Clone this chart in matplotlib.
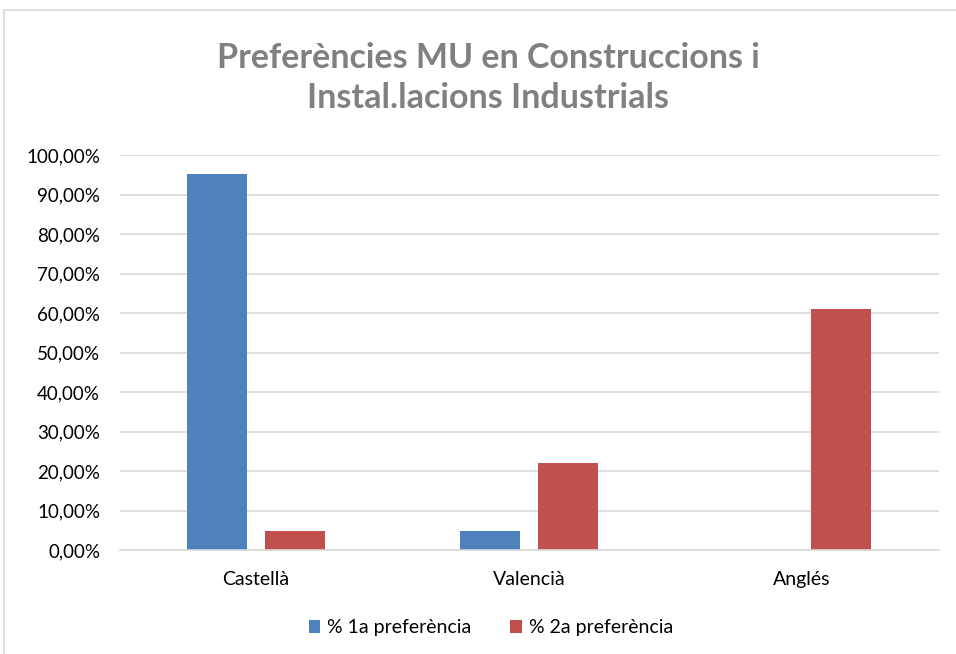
import numpy as np
import matplotlib.pyplot as plt
from matplotlib.patches import Rectangle
from matplotlib.ticker import FuncFormatter

plt.rcParams['font.family'] = ['Lato', 'DejaVu Sans']

categories = ['Castellà', 'Valencià', 'Anglés']
pref1 = [95.12, 4.88, 0.0]
pref2 = [4.88, 21.95, 60.98]
labels = ['% 1a preferència', '% 2a preferència']

blue = '#4f81bd'
red = '#c0504d'

fig = plt.figure(figsize=(9.56, 6.54), dpi=100)
# marc del grafic
fig.patches.append(Rectangle((4/956, -0.1), 1.1, 1 - 10/654 + 0.1,
                             transform=fig.transFigure, fill=False,
                             edgecolor='#d9d9d9', linewidth=1.2))

ax = fig.add_axes([119.5/956, 1 - 550/654, 819/956, 395/654])
x = np.arange(len(categories))
w = 0.22
d = 0.143
ax.bar(x - d, pref1, w, color=blue, label=labels[0])
ax.bar(x + d, pref2, w, color=red, label=labels[1])

ax.set_xlim(-0.5, 2.5)
ax.set_ylim(0, 100)
ax.set_yticks(np.arange(0, 101, 10))
ax.yaxis.set_major_formatter(FuncFormatter(lambda v, p: f'{v:.2f}%'.replace('.', ',')))
ax.set_xticks(x)
ax.set_xticklabels(categories)
ax.tick_params(axis='y', length=0, labelsize=13.5, colors='black', pad=14)
ax.tick_params(axis='x', length=0, labelsize=14, colors='black', pad=15)
ax.grid(axis='y', color='#d9d9d9', linewidth=1.2)
ax.set_axisbelow(True)
for s in ['top', 'right', 'left']:
    ax.spines[s].set_visible(False)
ax.spines['bottom'].set_color('#d9d9d9')
ax.spines['bottom'].set_linewidth(1.2)

fig.text(488/956, 1 - 78/654, 'Preferències MU en Construccions i\nInstal.lacions Industrials',
         ha='center', va='center', fontsize=24.5, fontweight='bold', color='#808080',
         linespacing=1.3)

fig.legend(loc='center', bbox_to_anchor=(491/956, 1 - 628/654), ncol=2, frameon=False,
           fontsize=14, handlelength=0.6, handleheight=0.6, handletextpad=0.35,
           columnspacing=2.0)

fig.savefig('out.png', dpi=100)
